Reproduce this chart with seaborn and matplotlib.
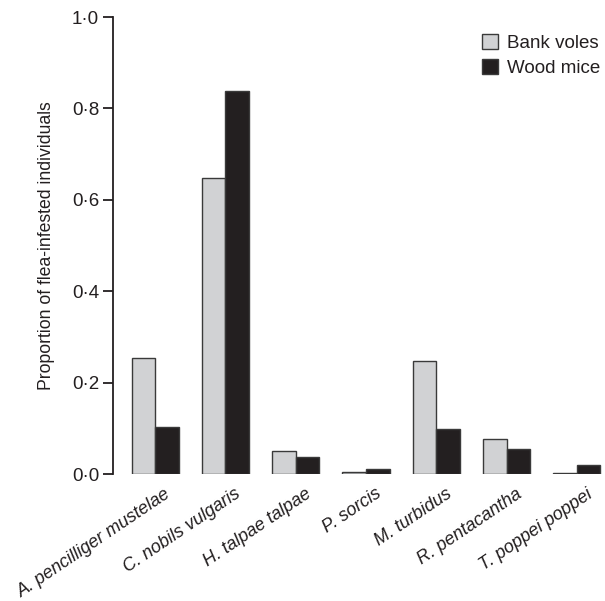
import matplotlib
matplotlib.use("Agg")
import matplotlib.pyplot as plt
import matplotlib.transforms as mtransforms
import seaborn as sns
import pandas as pd
from matplotlib.ticker import FixedLocator, FuncFormatter

species = ["A. pencilliger mustelae", "C. nobils vulgaris", "H. talpae talpae",
           "P. sorcis", "M. turbidus", "R. pentacantha", "T. poppei poppei"]
bank_voles = [0.255, 0.647, 0.051, 0.004, 0.247, 0.077, 0.002]
wood_mice = [0.104, 0.838, 0.037, 0.011, 0.100, 0.055, 0.020]
groups = ["Bank voles", "Wood mice"]
yticks = [0.0, 0.2, 0.4, 0.6, 0.8, 1.0]

df = pd.DataFrame({
    "species": species * 2,
    "host": [groups[0]] * len(species) + [groups[1]] * len(species),
    "value": bank_voles + wood_mice,
})

sns.set_style("white")
plt.rcParams["font.family"] = ["Liberation Sans", "DejaVu Sans"]

fig = plt.figure(figsize=(6.05, 6.01), dpi=100)
ax = fig.add_axes([0.1868, 0.2108, 0.8132, 0.7609])

palette = {"Bank voles": "#d1d2d4", "Wood mice": "#231f20"}
sns.barplot(data=df, x="species", y="value", hue="host", order=species,
            hue_order=groups, palette=palette, width=0.67, saturation=1,
            edgecolor="#3a3a3a", linewidth=1.0, ax=ax, errorbar=None)

ax.set_xlim(-0.6, 6.4)
ax.set_ylim(0, 1.0)
ax.yaxis.set_major_locator(FixedLocator(yticks))
ax.yaxis.set_major_formatter(FuncFormatter(lambda v, p: f"{v:.1f}".replace(".", "\u00b7")))
for s in ["top", "right", "bottom"]:
    ax.spines[s].set_visible(False)
ax.spines["left"].set_color("#231f20")
ax.spines["left"].set_linewidth(1.3)
ax.tick_params(axis="y", which="major", direction="out", length=7, width=1.3,
               color="#231f20", labelsize=13.5, labelcolor="#231f20", pad=3, left=True)
ax.tick_params(axis="x", length=0, pad=8, labelsize=13, labelcolor="#231f20")
ax.set_xticks(range(len(species)))
ax.set_xticklabels(species, rotation=34, ha="right", rotation_mode="anchor",
                   style="italic")
offset = mtransforms.ScaledTranslation(9 / 100, 0, fig.dpi_scale_trans)
for lab in ax.get_xticklabels():
    lab.set_transform(lab.get_transform() + offset)
ax.set_xlabel("")
ax.set_ylabel("Proportion of flea-infested individuals", fontsize=12.7,
              color="#231f20", labelpad=12)

leg = ax.legend(loc="upper right", bbox_to_anchor=(1.012, 0.985), frameon=False,
                fontsize=13.5, handlelength=0.85, handleheight=0.85,
                handletextpad=0.5, labelspacing=0.35, borderaxespad=0.15)
for t in leg.get_texts():
    t.set_color("#231f20")

fig.savefig("out.png", dpi=100)
